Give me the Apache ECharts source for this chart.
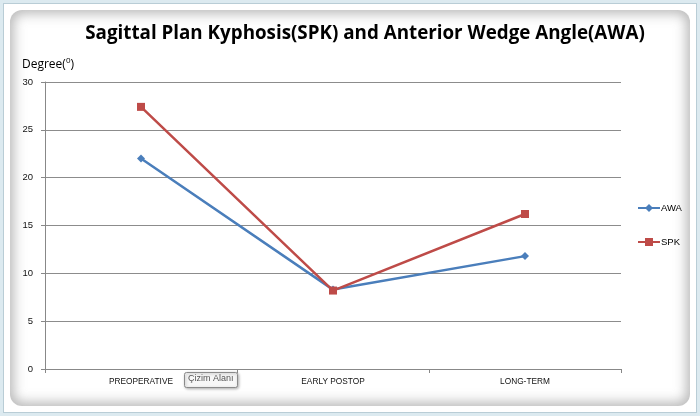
<!DOCTYPE html>
<html>
<head>
<meta charset="utf-8">
<script src="https://cdn.jsdelivr.net/npm/echarts@6/dist/echarts.min.js"></script>
<style>
html,body{margin:0;padding:0;width:700px;height:416px;overflow:hidden;background:#dceaf0;}
#frame{position:absolute;left:3px;top:3px;width:694px;height:410px;background:#fff;border:1px solid #b9cdd6;box-sizing:border-box;}
#inner{position:absolute;left:6px;top:6px;width:680px;height:396px;border-radius:12px;box-shadow:inset 0 0 12px 4px rgba(120,120,120,0.5);background:#fff;}
#chart{position:absolute;left:0;top:0;width:700px;height:416px;}
</style>
</head>
<body>
<div id="frame"><div id="inner"></div></div>
<div id="chart"></div>
<script>
var categories = ['PREOPERATIVE', 'EARLY POSTOP', 'LONG-TERM'];
var awaValues = [22.0, 8.3, 11.8];
var spkValues = [27.4, 8.2, 16.2];
var yTicks = [0, 5, 10, 15, 20, 25, 30];

var chart = echarts.init(document.getElementById('chart'), null, {renderer: 'canvas'});
chart.setOption({
  backgroundColor: 'transparent',
  animation: false,
  title: {
    text: 'Sagittal Plan Kyphosis(SPK) and Anterior Wedge Angle(AWA)',
    left: 360, top: 19, textAlign: 'center',
    textStyle: {fontFamily: 'Open Sans', fontSize: 18.8, fontWeight: 'bold', color: '#000'}
  },
  graphic: [
    {type: 'text', left: 22, top: 57, style: {
      text: '{a|Degree(}{s|0}{a|)}',
      rich: {
        a: {fontFamily: 'Open Sans', fontSize: 12, fill: '#000', verticalAlign: 'bottom'},
        s: {fontFamily: 'Open Sans', fontSize: 8, fill: '#000', verticalAlign: 'top', padding: [0, 0, 6, 0]}
      }
    }},
    {type: 'rect', left: 184, top: 372, shape: {width: 53, height: 15, r: 2},
      style: {fill: '#f7f7f7', stroke: '#8a8a8a', lineWidth: 1, shadowBlur: 3, shadowColor: 'rgba(0,0,0,0.3)', shadowOffsetX: 1, shadowOffsetY: 1}},
    {type: 'text', left: 188, top: 374, style: {text: 'Çizim Alanı', fontFamily: 'Liberation Sans', fontSize: 9, fill: '#555'}}
  ],
  legend: {
    orient: 'vertical', left: 632, top: 198, itemGap: 24,
    itemWidth: 22, itemHeight: 10,
    textStyle: {fontFamily: 'Liberation Sans', fontSize: 9.5, color: '#000', padding: [0, 0, 0, -4]},
    data: ['AWA', 'SPK']
  },
  grid: {left: 45, right: 79, top: 82, bottom: 47, containLabel: false},
  xAxis: {
    type: 'category', data: categories, boundaryGap: true,
    axisLine: {lineStyle: {color: '#888', width: 1}},
    axisTick: {show: true, length: 4, lineStyle: {color: '#888'}, alignWithLabel: false},
    axisLabel: {fontFamily: 'Liberation Sans', fontSize: 8.3, color: '#111', margin: 9}
  },
  yAxis: {
    type: 'value', min: yTicks[0], max: yTicks[yTicks.length - 1], interval: 5,
    axisLine: {show: true, lineStyle: {color: '#888'}},
    axisTick: {show: true, length: 4, inside: false, lineStyle: {color: '#888'}},
    splitLine: {lineStyle: {color: '#8c8c8c', width: 1}},
    axisLabel: {fontFamily: 'Liberation Sans', fontSize: 9.5, color: '#111', margin: 12}
  },
  series: [
    {name: 'AWA', type: 'line', data: awaValues, symbol: 'diamond', symbolSize: 8,
      lineStyle: {color: '#4a7ebb', width: 2.5}, itemStyle: {color: '#4a7ebb'}},
    {name: 'SPK', type: 'line', data: spkValues, symbol: 'rect', symbolSize: 8,
      lineStyle: {color: '#be4b48', width: 2.5}, itemStyle: {color: '#be4b48'}}
  ]
});
</script>
</body>
</html>
